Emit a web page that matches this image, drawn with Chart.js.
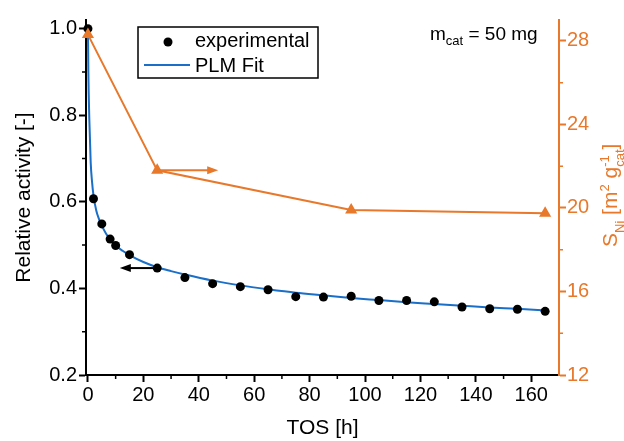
<!DOCTYPE html>
<html>
<head>
<meta charset="utf-8">
<script src="https://cdn.jsdelivr.net/npm/chart.js@4"></script>
<style>
  html, body { margin: 0; padding: 0; background: #fff; }
  #wrap { width: 624px; height: 441px; }
</style>
</head>
<body>
<div id="wrap"><canvas id="chart" width="624" height="441"></canvas></div>
<script>
// ── data ──────────────────────────────────────────────────────────
const expTime = [0, 2, 5, 8, 10, 15, 25, 35, 45, 55, 65, 75, 85, 95, 105, 115, 125, 135, 145, 155, 165];
const expAct  = [1.0, 0.607, 0.549, 0.514, 0.499, 0.478, 0.447, 0.425, 0.411, 0.404, 0.397, 0.381,
                 0.380, 0.382, 0.372, 0.372, 0.369, 0.357, 0.353, 0.352, 0.347];

const fitTime = [0, 0.15, 0.5, 1, 1.5, 2, 3, 4, 5, 6.5, 8, 10, 12.5, 15, 20, 25, 30, 35, 45, 55,
                 65, 75, 85, 95, 105, 115, 125, 135, 145, 155, 166];
const fitAct  = [1.0, 0.9, 0.79, 0.69, 0.645, 0.615, 0.58, 0.56, 0.545, 0.527, 0.513, 0.499, 0.487,
                 0.477, 0.461, 0.449, 0.44, 0.432, 0.418, 0.407, 0.398, 0.39, 0.384, 0.378, 0.373,
                 0.368, 0.364, 0.36, 0.356, 0.353, 0.349];

const areaTime = [0, 25, 95, 165];
const areaNi   = [28.3, 21.8, 19.9, 19.75];

const xTicks    = [0, 20, 40, 60, 80, 100, 120, 140, 160];
const xMinor    = [10, 30, 50, 70, 90, 110, 130, 150];
const actTicks  = [0.2, 0.4, 0.6, 0.8, 1.0];
const actMinor  = [0.3, 0.5, 0.7, 0.9];
const areaTicks = [12, 16, 20, 24, 28];
const areaMinor = [14, 18, 22, 26];

// arrows telling which axis each series belongs to
const actArrowX  = [25, 11.5];
const actArrowY  = 0.447;
const areaArrowX = [25, 47];
const areaArrowY = 21.8;

const ORANGE = '#E8782A';
const BLUE   = '#1A6FC8';
const FONT   = '"Liberation Sans", Arial, sans-serif';

Chart.defaults.font.family = FONT;

// ══════════════════════════════════════════════════════════════════
//  helpers
// ══════════════════════════════════════════════════════════════════
function arrow(ctx, x1, y1, x2, y2, color) {
  const dir = Math.sign(x2 - x1);
  ctx.save();
  ctx.strokeStyle = color;
  ctx.fillStyle = color;
  ctx.lineWidth = 2;
  ctx.beginPath();
  ctx.moveTo(x1, y1);
  ctx.lineTo(x2 - dir * 8, y2);
  ctx.stroke();
  ctx.beginPath();
  ctx.moveTo(x2, y2);
  ctx.lineTo(x2 - dir * 11, y2 - 4);
  ctx.lineTo(x2 - dir * 11, y2 + 4);
  ctx.closePath();
  ctx.fill();
  ctx.restore();
}

// draws a run of [text, size, dy] pieces, advancing along x
function richText(ctx, x, y, parts) {
  let cx = x;
  parts.forEach(p => {
    if (Array.isArray(p[0])) {
      // stacked super + subscript
      let w = 0;
      p.forEach(q => {
        ctx.font = q[1] + 'px ' + FONT;
        ctx.fillText(q[0], cx, y + q[2]);
        w = Math.max(w, ctx.measureText(q[0]).width);
      });
      cx += w;
    } else {
      ctx.font = p[1] + 'px ' + FONT;
      ctx.fillText(p[0], cx, y + p[2]);
      cx += ctx.measureText(p[0]).width;
    }
  });
}

const extras = {
  id: 'extras',
  afterDatasetsDraw(chart) {
    const ctx = chart.ctx;
    const x = chart.scales.x, y = chart.scales.y, y2 = chart.scales.y2;
    arrow(ctx, x.getPixelForValue(actArrowX[0]), y.getPixelForValue(actArrowY),
               x.getPixelForValue(actArrowX[1]), y.getPixelForValue(actArrowY), '#000');
    arrow(ctx, x.getPixelForValue(areaArrowX[0]), y2.getPixelForValue(areaArrowY),
               x.getPixelForValue(areaArrowX[1]), y2.getPixelForValue(areaArrowY), ORANGE);
  },
  afterDraw(chart) {
    const ctx = chart.ctx;
    const a = chart.chartArea;
    const x = chart.scales.x, y = chart.scales.y, y2 = chart.scales.y2;

    // minor ticks
    ctx.save();
    ctx.lineWidth = 1.5;
    ctx.strokeStyle = '#000';
    ctx.beginPath();
    xMinor.forEach(v => { const p = x.getPixelForValue(v); ctx.moveTo(p, a.bottom); ctx.lineTo(p, a.bottom + 4); });
    actMinor.forEach(v => { const p = y.getPixelForValue(v); ctx.moveTo(a.left, p); ctx.lineTo(a.left - 4, p); });
    ctx.stroke();
    ctx.strokeStyle = ORANGE;
    ctx.beginPath();
    areaMinor.forEach(v => { const p = y2.getPixelForValue(v); ctx.moveTo(a.right, p); ctx.lineTo(a.right + 4, p); });
    ctx.stroke();

    // legend box
    ctx.lineWidth = 1.5;
    ctx.strokeStyle = '#000';
    ctx.strokeRect(138, 27, 180, 51);
    ctx.fillStyle = '#000';
    ctx.beginPath();
    ctx.arc(168, 42, 4.5, 0, Math.PI * 2);
    ctx.fill();
    ctx.strokeStyle = BLUE;
    ctx.lineWidth = 2;
    ctx.beginPath();
    ctx.moveTo(144, 65);
    ctx.lineTo(190, 65);
    ctx.stroke();
    ctx.font = '20px ' + FONT;
    ctx.textBaseline = 'alphabetic';
    ctx.textAlign = 'left';
    ctx.fillText('experimental', 195, 47);
    ctx.fillText('PLM Fit', 195, 72);

    // catalyst mass note
    richText(ctx, 430, 40, [['m', 19, 0], ['cat', 13, 5], [' = 50 mg', 19, 0]]);

    // right axis title, reads bottom to top
    ctx.fillStyle = ORANGE;
    ctx.translate(617, 247);
    ctx.rotate(-Math.PI / 2);
    richText(ctx, 0, 0, [['S', 21, 0], ['Ni', 13, 7], [' [m', 21, 0], ['2', 13, -8],
                         [' g', 21, 0], [['-1', 13, -8], ['cat', 13, 7]], [']', 21, 0]]);
    ctx.restore();
  }
};

// ══════════════════════════════════════════════════════════════════
//  chart
// ══════════════════════════════════════════════════════════════════
const ctx = document.getElementById('chart').getContext('2d');
new Chart(ctx, {
  type: 'scatter',
  data: {
    datasets: [
      {
        label: 'S_Ni',
        data: areaTime.map((t, i) => ({ x: t, y: areaNi[i] })),
        yAxisID: 'y2',
        showLine: true,
        borderColor: ORANGE,
        backgroundColor: ORANGE,
        borderWidth: 2,
        pointStyle: 'triangle',
        pointRadius: 7,
        pointBorderWidth: 0,
        clip: false,
        order: 0
      },
      {
        label: 'experimental',
        data: expTime.map((t, i) => ({ x: t, y: expAct[i] })),
        yAxisID: 'y',
        showLine: false,
        backgroundColor: '#000',
        borderColor: '#000',
        pointRadius: 4.5,
        pointBorderWidth: 0,
        clip: false,
        order: 1
      },
      {
        label: 'PLM Fit',
        data: fitTime.map((t, i) => ({ x: t, y: fitAct[i] })),
        yAxisID: 'y',
        showLine: true,
        borderColor: BLUE,
        borderWidth: 2,
        pointRadius: 0,
        cubicInterpolationMode: 'monotone',
        clip: false,
        order: 2
      }
    ]
  },
  options: {
    responsive: false,
    animation: false,
    layout: { padding: { top: 20, right: 0, left: 0, bottom: 0 } },
    plugins: { legend: { display: false }, tooltip: { enabled: false } },
    scales: {
      x: {
        type: 'linear',
        min: -0.7,
        max: 170,
        afterBuildTicks: s => { s.ticks = xTicks.map(v => ({ value: v })); },
        afterFit: s => { s.height = 66; },
        border: { color: '#000', width: 2 },
        grid: { drawOnChartArea: false, tickLength: 7, tickWidth: 2, tickColor: '#000' },
        ticks: { color: '#000', font: { size: 20 }, padding: 1, maxRotation: 0 },
        title: { display: true, text: 'TOS [h]', color: '#000', font: { size: 21 }, padding: { top: 0, bottom: 0 } }
      },
      y: {
        type: 'linear',
        position: 'left',
        min: 0.2,
        max: 1.02,
        afterBuildTicks: s => { s.ticks = actTicks.map(v => ({ value: v })); },
        afterFit: s => { s.width = 86; },
        border: { color: '#000', width: 2 },
        grid: { drawOnChartArea: false, tickLength: 7, tickWidth: 2, tickColor: '#000' },
        ticks: { color: '#000', font: { size: 20 }, padding: 2, callback: v => v.toFixed(1) },
        title: { display: true, text: 'Relative activity [-]', color: '#000', font: { size: 21 }, padding: { top: 12, bottom: 0 } }
      },
      y2: {
        type: 'linear',
        position: 'right',
        min: 12,
        max: 29,
        afterBuildTicks: s => { s.ticks = areaTicks.map(v => ({ value: v })); },
        afterFit: s => { s.width = 65; },
        border: { color: ORANGE, width: 2 },
        grid: { drawOnChartArea: false, tickLength: 7, tickWidth: 2, tickColor: ORANGE },
        ticks: { color: ORANGE, font: { size: 20 }, padding: 1 }
      }
    }
  },
  plugins: [extras]
});
</script>
</body>
</html>
